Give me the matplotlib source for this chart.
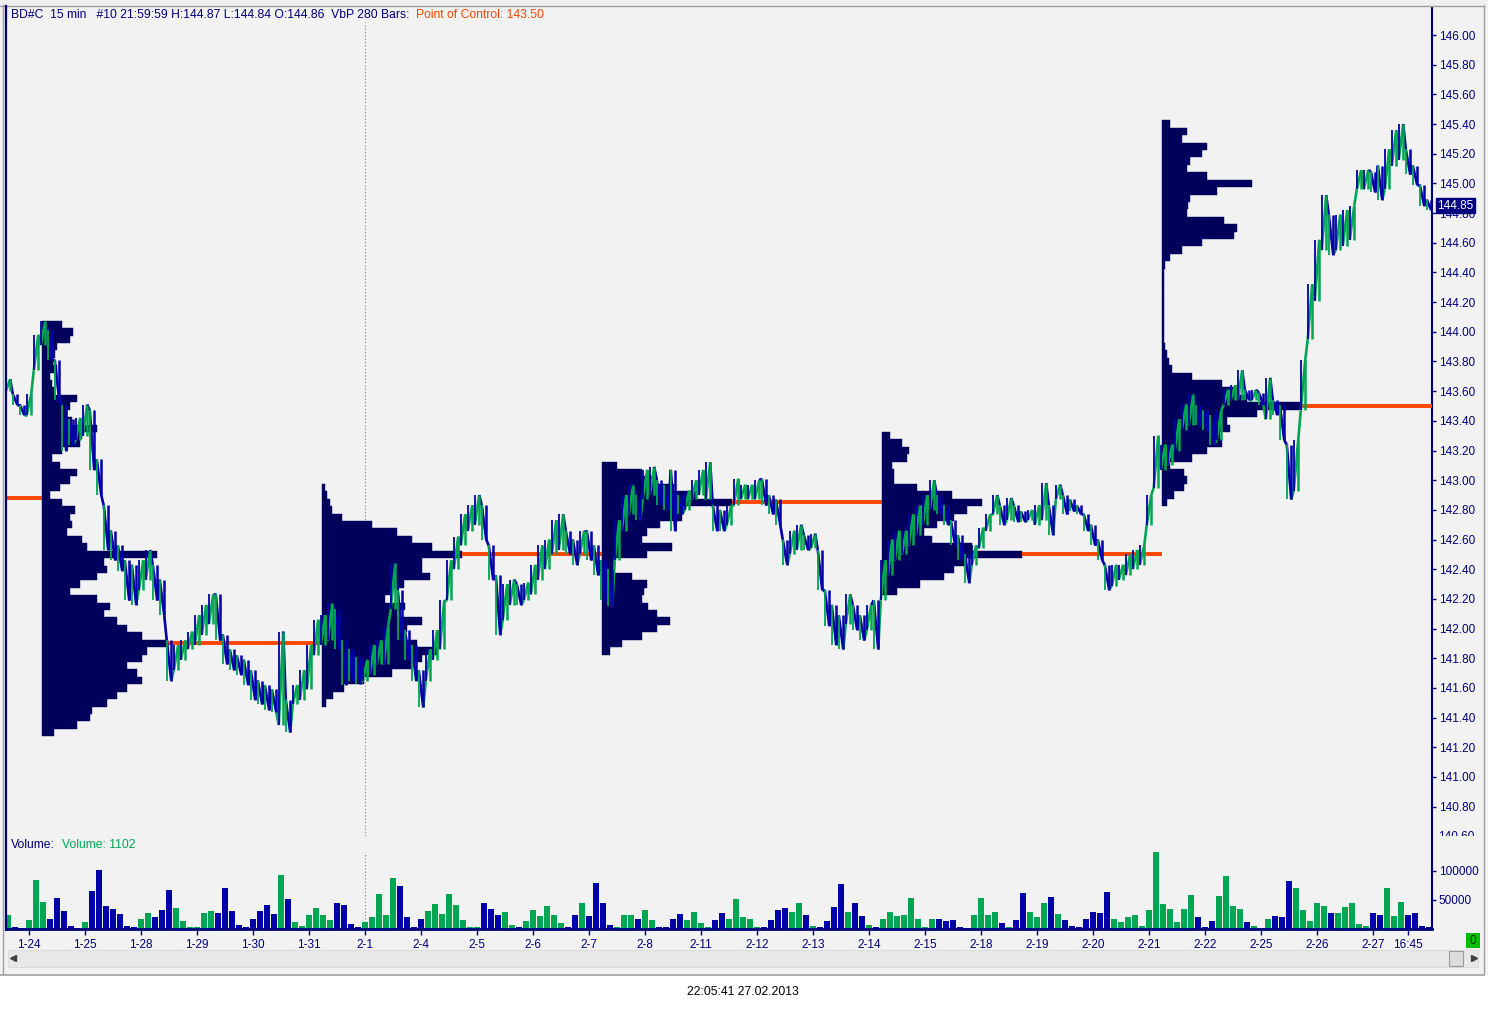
import numpy as np
import matplotlib
matplotlib.use("Agg")
import matplotlib.pyplot as plt
from matplotlib.patches import Rectangle
from matplotlib.collections import LineCollection
import matplotlib.transforms as mtransforms

plt.rcParams['font.family'] = ['Liberation Sans', 'DejaVu Sans']

# ---------------- data ----------------
# 15-min price path, resampled: one entry per ~1/8 session
highs = [143.68, 143.58, 143.51, 143.58, 143.98, 144.07, 144.01, 143.81, 143.51, 143.41,
         143.42, 143.51, 143.47, 143.14, 142.83, 142.66, 142.56, 142.46, 142.43, 142.46,
         142.53, 142.43, 142.33, 141.92, 141.89, 141.92, 141.98, 142.09, 142.16, 142.23,
         142.23, 141.96, 141.86, 141.82, 141.79, 141.72, 141.65, 141.62, 141.59, 141.98,
         141.52, 141.62, 141.72, 141.89, 142.06, 142.09, 142.17, 142.13, 141.92, 141.86,
         141.81, 141.79, 141.89, 141.92, 142.02, 142.44, 142.26, 141.99, 141.89, 141.72,
         141.86, 141.99, 142.19, 142.46, 142.62, 142.77, 142.83, 142.90, 142.83, 142.56,
         142.36, 142.30, 142.33, 142.30, 142.31, 142.43, 142.56, 142.60, 142.73, 142.77,
         142.66, 142.60, 142.66, 142.66, 142.56, 142.46, 142.40, 142.73, 142.90, 142.97,
         142.90, 143.07, 143.09, 143.00, 142.97, 143.07, 142.90, 142.93, 143.00, 143.07,
         143.12, 142.83, 142.80, 142.83, 143.01, 142.97, 142.97, 143.00, 143.01, 142.90,
         142.87, 142.60, 142.66, 142.70, 142.63, 142.64, 142.53, 142.26, 142.16, 142.09,
         142.23, 142.16, 142.09, 142.16, 142.19, 142.46, 142.60, 142.66, 142.66, 142.77,
         142.83, 142.90, 143.00, 142.90, 142.83, 142.73, 142.63, 142.50, 142.56, 142.68,
         142.77, 142.90, 142.83, 142.88, 142.83, 142.79, 142.80, 142.83, 142.98, 142.83,
         142.97, 142.90, 142.87, 142.83, 142.77, 142.70, 142.60, 142.43, 142.43, 142.43,
         142.50, 142.53, 142.56, 142.90, 143.30, 143.24, 143.24, 143.41, 143.51, 143.58,
         143.51, 143.47, 143.44, 143.47, 143.61, 143.64, 143.74, 143.61, 143.61, 143.59,
         143.69, 143.54, 143.51, 143.24, 143.27, 143.81, 144.32, 144.62, 144.92, 144.79,
         144.79, 144.82, 144.85, 145.09, 145.09, 145.08, 145.12, 145.23, 145.36, 145.40,
         145.23, 145.12, 144.99, 144.89]
lows = [143.60, 143.51, 143.44, 143.44, 143.74, 143.91, 143.81, 143.54, 143.20, 143.24,
        143.27, 143.30, 143.07, 142.90, 142.53, 142.46, 142.39, 142.19, 142.16, 142.26,
        142.33, 142.19, 142.09, 141.65, 141.72, 141.79, 141.86, 141.89, 141.96, 142.03,
        141.92, 141.76, 141.72, 141.69, 141.62, 141.52, 141.49, 141.45, 141.44, 141.35,
        141.30, 141.49, 141.52, 141.59, 141.82, 141.89, 141.92, 141.86, 141.62, 141.65,
        141.63, 141.65, 141.69, 141.76, 141.76, 142.13, 141.92, 141.79, 141.65, 141.47,
        141.65, 141.79, 141.86, 142.19, 142.40, 142.56, 142.66, 142.70, 142.60, 142.33,
        141.96, 142.06, 142.16, 142.16, 142.19, 142.23, 142.33, 142.40, 142.50, 142.53,
        142.50, 142.43, 142.50, 142.46, 142.36, 142.19, 142.15, 142.46, 142.66, 142.77,
        142.73, 142.87, 142.90, 142.83, 142.80, 142.66, 142.77, 142.80, 142.87, 142.90,
        142.87, 142.66, 142.66, 142.70, 142.83, 142.87, 142.87, 142.87, 142.83, 142.77,
        142.70, 142.43, 142.50, 142.53, 142.53, 142.54, 142.26, 142.02, 141.89, 141.86,
        142.03, 141.99, 141.92, 141.99, 141.86, 142.19, 142.36, 142.46, 142.50, 142.56,
        142.63, 142.70, 142.80, 142.77, 142.70, 142.56, 142.46, 142.31, 142.43, 142.54,
        142.66, 142.77, 142.70, 142.73, 142.72, 142.72, 142.73, 142.70, 142.73, 142.63,
        142.87, 142.77, 142.79, 142.77, 142.66, 142.56, 142.46, 142.26, 142.29, 142.33,
        142.36, 142.40, 142.43, 142.70, 142.95, 143.07, 143.10, 143.20, 143.34, 143.37,
        143.37, 143.34, 143.24, 143.27, 143.51, 143.54, 143.54, 143.54, 143.54, 143.51,
        143.41, 143.44, 143.27, 142.87, 142.93, 143.47, 143.95, 144.21, 144.55, 144.52,
        144.55, 144.58, 144.62, 144.96, 144.96, 144.94, 144.89, 144.96, 145.12, 145.16,
        145.06, 144.99, 144.85, 144.82]
volumes = [24000, 3000, 2000, 15000, 85000, 47000, 18000, 53000, 31000, 5000,
           2000, 12000, 66000, 102000, 40000, 35000, 26000, 6000, 3000, 17000,
           28000, 21000, 33000, 67000, 36000, 13000, 3000, 4000, 28000, 31000,
           28000, 71000, 31000, 7000, 3000, 18000, 31000, 42000, 26000, 93000,
           52000, 12000, 6000, 24000, 36000, 24000, 15000, 45000, 42000, 9000,
           3000, 12000, 20000, 60000, 24000, 88000, 74000, 21000, 4000, 18000,
           31000, 43000, 26000, 60000, 42000, 15000, 4000, 4000, 45000, 35000,
           24000, 30000, 7000, 3000, 13000, 32000, 22000, 40000, 24000, 10000,
           3000, 24000, 45000, 22000, 79000, 44000, 7000, 3000, 24000, 24000,
           18000, 32000, 15000, 3000, 3000, 18000, 26000, 15000, 30000, 10000,
           3000, 15000, 28000, 18000, 51000, 20000, 18000, 4000, 3000, 15000,
           32000, 36000, 30000, 44000, 24000, 5000, 3000, 13000, 38000, 78000,
           30000, 44000, 22000, 7000, 3000, 18000, 30000, 22000, 24000, 53000,
           18000, 3000, 18000, 18000, 13000, 15000, 3000, 2000, 24000, 53000,
           24000, 30000, 10000, 3000, 15000, 62000, 30000, 20000, 45000, 55000,
           25000, 15000, 5000, 3000, 18000, 30000, 28000, 64000, 18000, 12000,
           20000, 24000, 5000, 33000, 132000, 43000, 35000, 12000, 35000, 58000,
           20000, 3000, 14000, 56000, 92000, 40000, 35000, 12000, 5000, 2000,
           18000, 22000, 20000, 83000, 70000, 33000, 14000, 45000, 40000, 28000,
           28000, 38000, 45000, 9000, 5000, 28000, 24000, 70000, 22000, 47000,
           24000, 28000, 6000, 3000]

day_labels = ['1-24', '1-25', '1-28', '1-29', '1-30', '1-31', '2-1', '2-4', '2-5', '2-6',
              '2-7', '2-8', '2-11', '2-12', '2-13', '2-14', '2-15', '2-18', '2-19', '2-20',
              '2-21', '2-22', '2-25', '2-26', '2-27']
bars_per_day = 8
first_day_bar = 3
time_label = '16:45'
time_label_bar = 200

# volume-by-price profiles (0.05 price bins, from the top level down)
prof_start = [4.86, 44.86, 84.86, 124.86, 164.86]
prof_top = [144.05, 142.95, 143.10, 143.30, 145.40]
prof1 = [20, 31, 28, 15, 13, 11, 15, 8, 10, 12, 35, 28, 25, 30, 55, 40, 38, 20, 10, 18,
         35, 28, 18, 8, 20, 33, 28, 30, 25, 40, 45, 115, 62, 65, 55, 38, 28, 55, 68, 62,
         75, 85, 100, 126, 105, 100, 85, 95, 100, 85, 75, 65, 50, 48, 35, 12]
prof2 = [3, 5, 8, 10, 20, 50, 75, 90, 110, 140, 100, 100, 108, 82, 68, 63, 83, 75, 100, 85,
         80, 95, 115, 100, 90, 70, 42, 22, 11, 4]
prof3 = [15, 40, 55, 72, 95, 130, 80, 80, 58, 45, 40, 70, 45, 12, 12, 30, 45, 42, 40, 46,
         55, 68, 55, 40, 20, 8]
prof4 = [8, 20, 27, 25, 10, 12, 12, 35, 70, 100, 85, 72, 55, 42, 50, 90, 140, 85, 72, 62,
         38, 15]
prof5 = [8, 25, 20, 45, 40, 28, 25, 45, 90, 55, 28, 26, 25, 62, 75, 72, 40, 20, 8, 3,
         2, 2, 2, 2, 2, 2, 2, 2, 2, 2, 3, 5, 7, 10, 30, 60, 78, 85, 138, 95,
         65, 68, 58, 60, 45, 30, 8, 22, 25, 22, 12, 5]
profiles = [prof1, prof2, prof3, prof4, prof5]
prof_step = 0.05
prof_units_per_bar = 7.0
prev_poc = 142.88
last_price = 144.85
header_main = 'BD#C  15 min   #10 21:59:59 H:144.87 L:144.84 O:144.86  VbP 280 Bars:'
header_poc = 'Point of Control: 143.50'
vol_last = 1102
timestamp = '22:05:41 27.02.2013'

# ---------------- styling ----------------
W, H = 1488, 1009
BG = '#F2F2F2'
NAVY = '#00007F'
BLUE = '#0000A8'
GREEN = '#00A651'
PROF = '#00005C'
ORANGE = '#FF4500'
FS = 8.75
FT = 8.5

fig = plt.figure(figsize=(W / 100, H / 100), dpi=100, facecolor=BG)

L_, R_, T_, M_, B_ = 7, 1432, 8, 836, 929
ax = fig.add_axes([L_ / W, 1 - M_ / H, (R_ - L_) / W, (M_ - T_) / H])
axv = fig.add_axes([L_ / W, 1 - B_ / H, (R_ - L_) / W, (B_ - M_) / H])
for a in (ax, axv):
    a.set_facecolor(BG)

n = len(highs)
hi = np.array(highs)
lo = np.array(lows)
mid = (hi + lo) / 2
up = np.r_[True, mid[1:] >= mid[:-1]]
xk = np.arange(n)
x0, x1 = -1 / 7, (1432 - 8) / 7
ax.set_xlim(x0, x1)
axv.set_xlim(x0, x1)
ax.set_ylim(146 - (836 - 35) / 148.4, 146 + 27 / 148.4)
axv.set_ylim(0, 160000)

# profiles + POC lines
ax.hlines(prev_poc, x0, prof_start[0], color=ORANGE, lw=2.8, zorder=3)
for i, (st, top, vols) in enumerate(zip(prof_start, prof_top, profiles)):
    v = np.array(vols, dtype=float)
    levels = top - prof_step * np.arange(len(v))
    ax.barh(levels, v / prof_units_per_bar, left=st, height=prof_step,
            color=PROF, edgecolor=PROF, linewidth=0.3, zorder=2)
    j = int(np.argmax(v))
    end = prof_start[i + 1] if i + 1 < len(prof_start) else x1
    ax.hlines(levels[j], st + v[j] / prof_units_per_bar, end, color=ORANGE, lw=2.8, zorder=3)

# price bars as a jagged up/down path
pts = []
for k in range(n):
    a, b = (lo[k], hi[k]) if up[k] else (hi[k], lo[k])
    pts.append((k - 0.32, a))
    pts.append((k + 0.32, b))
segs, cols = [], []
for i in range(len(pts) - 1):
    segs.append([pts[i], pts[i + 1]])
    k = (i + 1) // 2
    cols.append(GREEN if up[min(k, n - 1)] else BLUE)
ax.add_collection(LineCollection(segs, colors=cols, linewidths=1.9, zorder=4,
                                 capstyle='butt'))
ax.vlines(xk - 0.3, lo, hi, colors=[BLUE if u else GREEN for u in up], lw=1.3, zorder=4)
ax.vlines(xk + 0.25, lo, hi, colors=[GREEN if u else BLUE for u in up], lw=1.8, zorder=4)

# volume
axv.bar(xk, volumes, width=0.78, color=[GREEN if u else BLUE for u in up],
        linewidth=0, zorder=2)

# 2-1 separator
sep = first_day_bar + bars_per_day * day_labels.index('2-1')
ax.axvline(sep, ymin=0, ymax=(836 - 22) / 828, color='#808080', lw=0.8,
           ls=(0, (1, 2)), zorder=1)
axv.axvline(sep, ymin=0, ymax=(929 - 852) / 93, color='#808080', lw=0.8,
            ls=(0, (1, 2)), zorder=1)

# axes styling
ax.yaxis.tick_right()
yt = np.round(np.arange(140.8, 146.001, 0.2), 2)
ax.set_yticks(yt)
ax.set_yticklabels(['%.2f' % v for v in yt])
ax.tick_params(axis='y', colors=NAVY, labelcolor=NAVY, length=3, width=1, pad=2,
               labelsize=FT, direction='out')
ax.tick_params(axis='x', bottom=False, labelbottom=False)
for s in ('left', 'top', 'bottom'):
    ax.spines[s].set_visible(False)
ax.spines['right'].set_color(NAVY)
ax.spines['right'].set_linewidth(1.5)

axv.yaxis.tick_right()
axv.set_yticks([50000, 100000])
axv.set_yticklabels(['50000', '100000'])
axv.tick_params(axis='y', colors=NAVY, labelcolor=NAVY, length=3, width=1, pad=2,
                labelsize=FT)
xt = [first_day_bar + bars_per_day * d for d in range(len(day_labels))] + [time_label_bar]
axv.set_xticks(xt)
axv.set_xticklabels(day_labels + [time_label])
axv.tick_params(axis='x', colors=NAVY, labelcolor=NAVY, length=4, width=1, pad=3,
                labelsize=FT)
for s in ('left', 'top'):
    axv.spines[s].set_visible(False)
for s in ('right', 'bottom'):
    axv.spines[s].set_color(NAVY)
axv.spines['right'].set_linewidth(1.5)
axv.spines['bottom'].set_linewidth(2)

# last price marker (covers the 144.80 label as in the original)
tr = mtransforms.blended_transform_factory(ax.transAxes, ax.transData)
ax.text(1.0035, last_price, '%.2f' % last_price, transform=tr, color='white',
        fontsize=FT, va='center', ha='left', zorder=10, clip_on=False,
        bbox=dict(boxstyle='square,pad=0.12', fc=NAVY, ec=NAVY))

# overlay (frame, header, scrollbar)
ov = fig.add_axes([0, 0, 1, 1], facecolor='none')
ov.set_xlim(0, W)
ov.set_ylim(H, 0)
ov.axis('off')
ov.add_patch(Rectangle((0, 975), W, H - 975, fc='white', ec='none'))
ov.add_patch(Rectangle((0, 0), W, 5, fc='#F0F0F0', ec='none'))
ov.plot([0, 1484], [5.5, 5.5], color='#A0A0A0', lw=1)
ov.plot([1483.5, 1483.5], [5, 974], color='#A0A0A0', lw=1)
ov.plot([0, 1484], [974.5, 974.5], color='#A0A0A0', lw=1.2)
ov.plot([3, 3], [5, 974], color='#A0A0A0', lw=1)
ov.plot([5.5, 5.5], [6, 930], color=NAVY, lw=1.6)
# partially hidden lowest price label (cut off by the volume pane)
ov.text(1438, 837, '140.60', color=NAVY, fontsize=FT, ha='left', va='center', zorder=1)
ov.add_patch(Rectangle((1433.5, 836), 48, 22, fc=BG, ec='none', zorder=2))
# scrollbar
ov.add_patch(Rectangle((8, 950), 1470, 17, fc='#E8E8E8', ec='#DCDCDC', lw=0.8))
ov.add_patch(Rectangle((1449, 951), 14, 15, fc='#DDDDDD', ec='#9A9A9A', lw=0.8))
ov.plot([13], [958], marker='<', ms=4, color='#404040')
ov.plot([1474], [958], marker='>', ms=4, color='#404040')
# green counter box
ov.add_patch(Rectangle((1466, 933), 14, 15, fc='#00C000', ec='none'))
ov.text(1473, 941, '0', color='#0A2A0A', fontsize=FT, ha='center', va='center')
# header
ov.text(11, 14.5, header_main, color=NAVY, fontsize=FS, ha='left', va='center')
ov.text(416, 14.5, header_poc, color=ORANGE, fontsize=FS, ha='left', va='center')
ov.text(11, 845, 'Volume:', color=NAVY, fontsize=FS, ha='left', va='center')
ov.text(62, 845, 'Volume: %d' % vol_last, color=GREEN, fontsize=FS, ha='left', va='center')
ov.text(743, 992, timestamp, color='black', fontsize=FS, ha='center', va='center')

fig.savefig('out.png', dpi=100, facecolor=BG)
